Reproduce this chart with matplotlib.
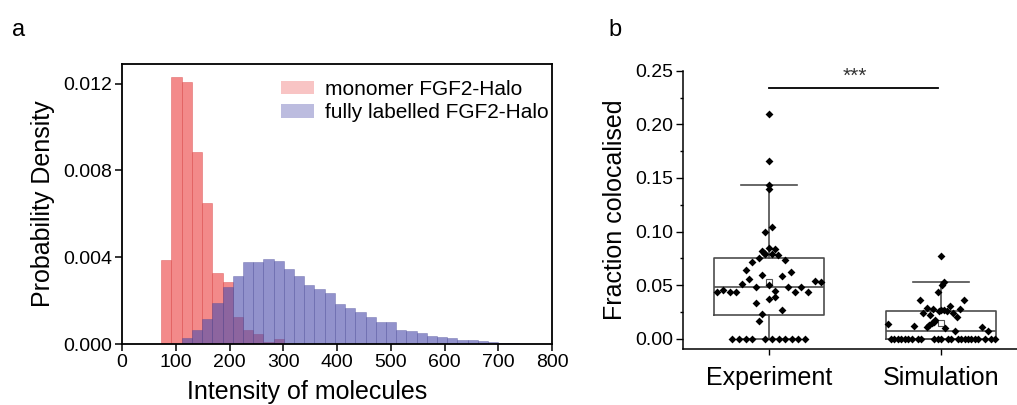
import numpy as np
import matplotlib.pyplot as plt
from matplotlib.patches import Patch
from matplotlib.ticker import MultipleLocator, FormatStrFormatter

plt.rcParams['font.family'] = ['Liberation Sans', 'DejaVu Sans']

# ---- panel a: histograms (bin width 19, densities)
bin_width = 19
mono_start = 73
mono_density = [0.00386, 0.01229, 0.01208, 0.00883, 0.00648, 0.00329,
                0.00284, 0.00123, 0.00063, 0.00048, 0.00010, 0.00022]
full_start = 111
full_density = [0.00026, 0.00066, 0.00117, 0.00190, 0.00263, 0.00315,
                0.00376, 0.00378, 0.00390, 0.00383, 0.00347, 0.00315,
                0.00270, 0.00252, 0.00237, 0.00183, 0.00164, 0.00146,
                0.00126, 0.00103, 0.00100, 0.00065, 0.00060, 0.00052,
                0.00038, 0.00032, 0.00026, 0.00018, 0.00018, 0.00012,
                0.00010, 0.00005, 0.00003]

# ---- panel b: fraction colocalised, points + box summaries
groups = ['Experiment', 'Simulation']
exp_values = [0.210, 0.166, 0.143, 0.140, 0.1045, 0.0998, 0.0843, 0.0834,
              0.0818, 0.0802, 0.079, 0.079, 0.0781, 0.075, 0.0737, 0.0715,
              0.0638, 0.0622, 0.0591, 0.0588, 0.0554, 0.0538, 0.0532, 0.051,
              0.0501, 0.0482, 0.0482, 0.048, 0.0457, 0.0448, 0.0438, 0.0438,
              0.0436, 0.0436, 0.0436, 0.0386, 0.0368, 0.033, 0.0271, 0.0228,
              0.0162] + [0.0] * 11
exp_jitter = [0, 0, 0, 0, 0.016, -0.023, 0, 0.035, -0.041, -0.031, -0.021,
              0.016, 0.054, -0.058, 0.093, -0.097, -0.134, 0.130, -0.041,
              0.074, -0.116, 0.265, 0.300, -0.155, 0, 0.110, 0.186, -0.078,
              -0.266, 0.037, 0.149, 0.225, -0.304, -0.229, -0.192, 0.037, 0,
              -0.078, 0.074, -0.039, -0.058,
              -0.213, -0.174, -0.136, -0.097, -0.021, 0.017, 0.056, 0.095,
              0.132, 0.171, 0.207]
sim_values = [0.0771, 0.0529, 0.0498, 0.0436, 0.0358, 0.0358, 0.0308, 0.0286,
              0.028, 0.0274, 0.027, 0.0268, 0.026, 0.0255, 0.0243, 0.0237,
              0.0224, 0.0205, 0.017, 0.0159, 0.0143, 0.0128, 0.0112, 0.0137,
              0.0121, 0.0112, 0.010, 0.0072, 0.0072] + [0.0] * 24
sim_jitter = [0, 0.019, 0.006, -0.016, -0.122, 0.132, 0.052, -0.083, -0.045,
              0.110, 0.016, 0, -0.014, 0.033, 0.072, -0.103, -0.066, 0.095,
              -0.033, -0.040, -0.054, -0.068, -0.081, -0.31, -0.155, 0.236,
              0.023, 0.081, 0.275,
              -0.291, -0.271, -0.25, -0.231, -0.211, -0.19, -0.171, -0.136,
              -0.116, -0.039, -0.019, 0, 0.039, 0.058, 0.097, 0.116, 0.138,
              0.157, 0.176, 0.196, 0.215, 0.254, 0.293, 0.312]
# box summaries (whislo, q1, med, q3, whishi, mean)
exp_box = [0.0, 0.022, 0.048, 0.075, 0.143, 0.053]
sim_box = [0.0, 0.0, 0.007, 0.026, 0.053, 0.0145]

fig = plt.figure(figsize=(10.17, 4.05), dpi=100)

# ---------------- a
ax = fig.add_axes([0.1200, 0.1506, 0.4228, 0.6914])
red = (0.92, 0.24, 0.24, 0.6)
blue = (0.31, 0.31, 0.68, 0.62)
mono_edges = mono_start + bin_width * np.arange(len(mono_density))
full_edges = full_start + bin_width * np.arange(len(full_density))
ax.bar(mono_edges, mono_density, width=bin_width, align='edge',
       color=red, edgecolor=(0.85, 0.3, 0.3, 0.5), linewidth=0.6)
ax.bar(full_edges, full_density, width=bin_width, align='edge',
       color=blue, edgecolor=(0.3, 0.3, 0.6, 0.4), linewidth=0.6)
ax.set_xlim(0, 800)
ax.set_ylim(0, 0.0129)
ax.set_xticks(np.arange(0, 801, 100))
ax.set_yticks([0, 0.004, 0.008, 0.012])
ax.yaxis.set_major_formatter(FormatStrFormatter('%.3f'))
ax.tick_params(direction='out', length=5, width=1.1, labelsize=14, pad=2)
for s in ax.spines.values():
    s.set_linewidth(1.3)
ax.set_xlabel('Intensity of molecules', fontsize=18)
ax.set_ylabel('Probability Density', fontsize=18, labelpad=6)
ax.xaxis.set_label_coords(0.43, -0.128)
handles = [Patch(facecolor=(0.92, 0.24, 0.24, 0.3)),
           Patch(facecolor=(0.31, 0.31, 0.68, 0.38))]
ax.legend(handles, ['monomer FGF2-Halo', 'fully labelled FGF2-Halo'],
          loc='upper right', bbox_to_anchor=(1.012, 0.972),
          frameon=False, fontsize=15,
          handlelength=1.55, handleheight=0.6, handletextpad=0.55,
          labelspacing=0.2, borderaxespad=0.1, borderpad=0.3)

# ---------------- b
bx = fig.add_axes([0.6713, 0.1375, 0.3287, 0.6879])
pos = [1, 2]
stats = []
for b in [exp_box, sim_box]:
    stats.append(dict(whislo=b[0], q1=b[1], med=b[2], q3=b[3], whishi=b[4],
                      mean=b[5], fliers=[]))
lc = '#4d4d4d'
bx.bxp(stats, positions=pos, widths=0.644, capwidths=0.326, showmeans=True,
       boxprops=dict(color=lc, linewidth=1.2),
       medianprops=dict(color=lc, linewidth=1.2),
       whiskerprops=dict(color=lc, linewidth=1.2),
       capprops=dict(color=lc, linewidth=1.2),
       meanprops=dict(marker='s', markerfacecolor='white',
                      markeredgecolor='#555555', markersize=4,
                      markeredgewidth=0.8))
bx.scatter(pos[0] + np.array(exp_jitter), exp_values, marker='D', s=16,
           color='black', zorder=3, linewidths=0)
bx.scatter(pos[1] + np.array(sim_jitter), sim_values, marker='D', s=16,
           color='black', zorder=3, linewidths=0)

bx.plot([1.0, 1.98], [0.234, 0.234], color='black', linewidth=1.3)
bx.text(1.5, 0.2355, '***', ha='center', va='bottom', fontsize=15,
        color='#333333')

bx.set_xlim(0.498, 2.442)
bx.set_ylim(-0.0099, 0.25)
bx.set_xticks(pos)
bx.set_xticklabels(groups, fontsize=18)
bx.yaxis.set_major_locator(MultipleLocator(0.05))
bx.yaxis.set_minor_locator(MultipleLocator(0.025))
bx.yaxis.set_major_formatter(FormatStrFormatter('%.2f'))
bx.tick_params(axis='y', which='major', direction='out', length=5,
               width=1, labelsize=14, pad=2)
bx.tick_params(axis='y', which='minor', direction='out', length=2.5, width=1)
bx.tick_params(axis='x', direction='out', length=4, width=1, pad=8)
bx.spines['top'].set_visible(False)
bx.spines['right'].set_visible(False)
bx.spines['left'].set_bounds(-0.0099, 0.25)
for s in ['left', 'bottom']:
    bx.spines[s].set_linewidth(1.1)
bx.set_ylabel('Fraction colocalised', fontsize=18, labelpad=6)

fig.text(0.012, 0.926, 'a', fontsize=17, va='center')
fig.text(0.598, 0.926, 'b', fontsize=17, va='center')

fig.savefig('out.png', dpi=100)
